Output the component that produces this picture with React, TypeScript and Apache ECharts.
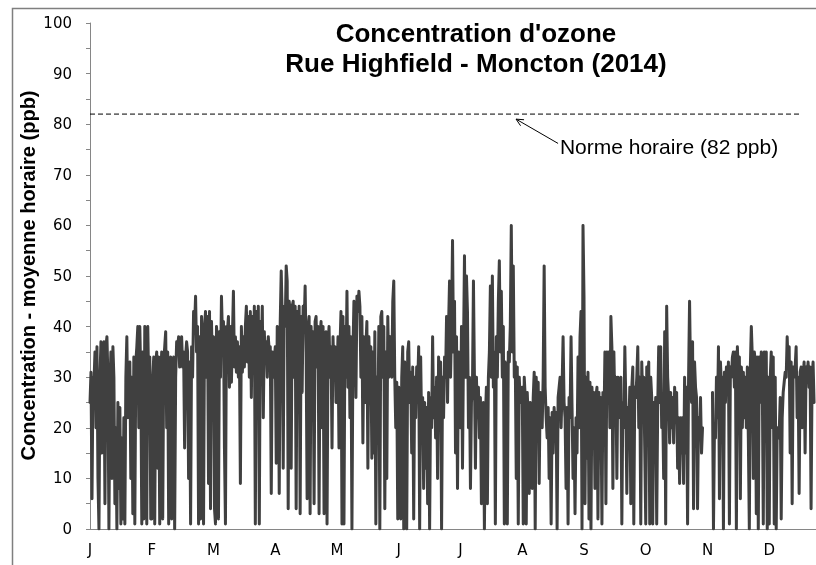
import React, { useEffect, useRef } from 'react';
import * as echarts from 'echarts';

const MONTH_LABELS = ['J', 'F', 'M', 'A', 'M', 'J', 'J', 'A', 'S', 'O', 'N', 'D'];

// Hourly ozone readings (ppb) at ~1 value per pixel column per month
const JAN = [25,31,6,30,29,35,20,36,10,0,30,37,15,36,37,5,36,38,30,0,28,35,10,36,30,5,20,0,25,8,24,1,18,2,22,1,30,38,22,32,33,10,30,3,34,1,33,36,40,20,40,30,1,35,2,40,30,1,40,28,34,2];
const FEB = [2,30,34,1,33,35,12,34,1,30,35,2,33,36,39,20,35,1,32,34,2,30,34,0,30,37,36,38,32,36,38,32,35,16,34,37,35,10,33,1,36,30,43,40,46,35,40,1,38,2,42,35,1,40,43,30,42,9,43,4,41,30];
const MAR = [38,4,1,40,37,2,39,30,46,38,41,16,1,40,39,42,28,40,29,38,47,32,38,31,37,30,36,9,40,31,38,32,40,44,33,42,30,43,26,42,32,44,1,43,30,44,1,41,35,44,22,39,34,37,30,38,35,36,7,35,30];
const APR = [36,13,40,38,7,41,51,42,12,44,40,52,49,4,45,43,12,44,45,30,44,4,43,35,44,3,42,27,44,40,48,35,6,40,42,3,40,30,39,5,41,42,32,40,3,38,41,20,40,3,38,39,1,36,40,30,36,16,38,30,36,25];
const MAY = [30,38,16,36,43,1,42,1,40,30,47,28,40,22,38,0,35,45,40,26,46,43,47,44,30,42,17,38,25,36,41,12,38,30,36,14,35,15,39,1,30,20,40,0,42,43,30,40,4,35,10,42,30,38,38,30,45,49,30,20,29,2];
const JUN = [28,24,2,30,36,0,33,20,0,35,37,25,31,15,32,2,30,22,32,28,36,0,34,20,26,8,25,12,24,5,27,0,26,20,38,22,28,18,30,10,34,20,33,0,30,22,34,30,42,25,40,49,30,40,57,35,45,15,38,8,35,25];
const JUL = [20,40,12,35,54,30,50,43,20,30,8,25,28,49,30,12,30,22,28,18,26,5,20,25,0,22,28,5,30,35,48,30,50,28,35,1,38,30,45,53,35,47,30,40,1,33,30,1,35,33,40,60,35,52,30,33,10,32,1,30,25];
const AUG = [28,1,30,26,1,27,22,7,25,18,8,26,31,0,30,22,29,9,27,25,20,30,52,28,22,18,24,10,22,1,23,15,24,20,23,0,26,28,30,20,28,38,25,22,8,24,1,26,22,38,24,10,20,3,22,15,34,20,38,43,0,60];
const SEP = [46,5,30,14,31,2,29,0,28,20,27,8,26,28,2,27,15,26,1,27,20,35,5,35,28,35,20,42,36,8,35,24,30,10,30,28,22,30,1,25,20,36,25,7,24,20,28,5,28,32,1,28,26,30,36,20,30,1,33,25,30];
const OCT = [1,32,29,33,1,30,26,1,25,20,26,1,24,36,25,36,20,24,10,39,1,44,30,26,17,27,20,26,17,28,21,27,12,22,9,22,15,22,9,30,15,28,1,30,45,30,25,37,4,33,28,26,4,22,18,26,15,20,null,null,null,null];
const NOV = [null,null,null,null,null,27,0,20,18,30,22,36,6,33,28,30,0,31,25,32,27,33,1,32,30,34,35,28,35,0,36,30,34,6,32,20,31,22,30,20,32,18,0,32,40,34,10,35,33,3,34,0,34,25,35,30,1,35,33,35,0,30];
const DEC = [1,30,35,20,34,1,30,0,20,18,19,26,2,22,27,29,31,30,38,32,36,15,33,5,32,30,32,36,22,30,7,31,32,20,30,33,15,32,30,33,28,32,4,30,33,25];

const MONTHLY: (number | null)[][] = [JAN, FEB, MAR, APR, MAY, JUN, JUL, AUG, SEP, OCT, NOV, DEC];
const SLOTS_PER_MONTH = 62;

const NORME = 82;
const NORME_X = [0, 11.51];
const TITLE_LINES = ["Concentration d'ozone", 'Rue Highfield - Moncton (2014)'];
const Y_TITLE = 'Concentration - moyenne horaire (ppb)';
const NOTE = 'Norme horaire (82 ppb)';
const ARROW_HEAD = [6.9, 81.0];
const ARROW_TAIL = [7.58, 76.2];
const NOTE_POS = [7.61, 75.5];

export default function App() {
  const ref = useRef<HTMLDivElement>(null);
  useEffect(() => {
    const chart = echarts.init(ref.current!, null, { renderer: 'svg' });
    const data = MONTHLY.flatMap((arr, m) =>
      arr.map((v, i) => [m + i / SLOTS_PER_MONTH, v === null ? '-' : v])
    );
    const gray = '#868686';
    chart.setOption({
      animation: false,
      grid: { left: 90, top: 23, width: 741, height: 506, outerBoundsMode: 'none', containLabel: false },
      xAxis: {
        type: 'value',
        min: 0,
        max: 12,
        interval: 1,
        axisLine: { show: true, lineStyle: { color: gray, width: 1 } },
        axisTick: { show: false },
        splitLine: { show: false },
        axisLabel: {
          margin: 13,
          fontFamily: 'DejaVu Sans',
          fontSize: 15,
          color: '#000',
          formatter: (v: number) => MONTH_LABELS[Math.round(v)] ?? '',
        },
      },
      yAxis: {
        type: 'value',
        min: 0,
        max: 100,
        interval: 10,
        axisLine: { show: true, lineStyle: { color: gray, width: 1 } },
        axisTick: { show: true, length: 4, lineStyle: { color: gray } },
        minorTick: { show: true, splitNumber: 2, length: 4, lineStyle: { color: gray } },
        splitLine: { show: false },
        minorSplitLine: { show: false },
        axisLabel: { margin: 18, fontFamily: 'DejaVu Sans', fontSize: 15, color: '#000' },
      },
      series: [
        {
          type: 'line',
          data,
          symbol: 'none',
          showSymbol: false,
          connectNulls: false,
          lineStyle: { color: '#404040', width: 3, join: 'round', cap: 'round' },
          z: 2,
        },
        {
          type: 'line',
          data: NORME_X.map((x) => [x, NORME]),
          symbol: 'none',
          lineStyle: { color: '#000', width: 1, type: [5, 3] },
          z: 3,
        },
      ],
    });

    const px = (p: number[]) => chart.convertToPixel({ gridIndex: 0 }, p) as number[];
    const head = px(ARROW_HEAD);
    const tail = px(ARROW_TAIL);
    const note = px(NOTE_POS);
    const dx = tail[0] - head[0];
    const dy = tail[1] - head[1];
    const len = Math.hypot(dx, dy);
    const ux = dx / len;
    const uy = dy / len;
    const hl = 8;
    const ang = 0.45;
    const rot = (a: number) => [
      head[0] + hl * (ux * Math.cos(a) - uy * Math.sin(a)),
      head[1] + hl * (ux * Math.sin(a) + uy * Math.cos(a)),
    ];

    chart.setOption({
      graphic: [
        {
          type: 'rect',
          silent: true,
          z: -10,
          shape: { x: 12.5, y: 8.5, width: 1200, height: 1200 },
          style: { fill: 'none', stroke: '#7f7f7f', lineWidth: 1.5 },
        },
        {
          type: 'text',
          x: 476,
          y: 18,
          style: {
            text: TITLE_LINES.join('\n'),
            fontFamily: 'Liberation Sans',
            fontWeight: 'bold',
            fontSize: 26,
            lineHeight: 30,
            align: 'center',
            verticalAlign: 'top',
            fill: '#000',
          },
        },
        {
          type: 'text',
          x: 28,
          y: 275.5,
          rotation: Math.PI / 2,
          style: {
            text: Y_TITLE,
            fontFamily: 'Liberation Sans',
            fontWeight: 'bold',
            fontSize: 20,
            align: 'center',
            verticalAlign: 'middle',
            fill: '#000',
          },
        },
        {
          type: 'line',
          shape: { x1: tail[0], y1: tail[1], x2: head[0], y2: head[1] },
          style: { stroke: '#000', lineWidth: 1 },
          z: 10,
        },
        {
          type: 'polyline',
          shape: { points: [rot(ang), head, rot(-ang)] },
          style: { stroke: '#000', lineWidth: 1, fill: 'none' },
          z: 10,
        },
        {
          type: 'text',
          x: note[0],
          y: note[1],
          style: {
            text: NOTE,
            fontFamily: 'Liberation Sans',
            fontSize: 21,
            align: 'left',
            verticalAlign: 'middle',
            fill: '#000',
          },
          z: 10,
        },
      ],
    });
    return () => chart.dispose();
  }, []);
  return (
    <div
      ref={ref}
      style={{ position: 'fixed', left: 0, top: 0, width: 816, height: 565 }}
    />
  );
}
